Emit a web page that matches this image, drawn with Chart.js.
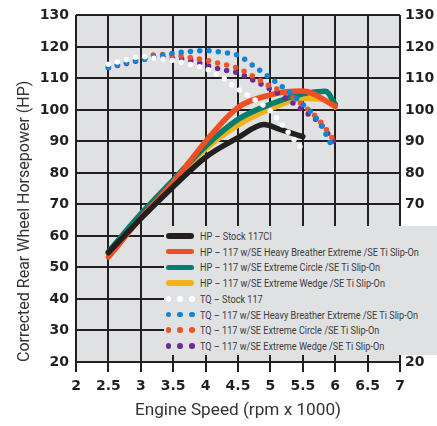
<!DOCTYPE html>
<html lang="en">
<head>
<meta charset="UTF-8" />
<title>Engine dyno chart</title>
<script src="https://cdn.jsdelivr.net/npm/chart.js@4.4.1/dist/chart.umd.min.js"></script>
<style>
  html, body { margin: 0; padding: 0; background: #fff; }
  #wrap { position: relative; width: 437px; height: 426px; }
  #under, #grid, #chart { position: absolute; left: 0; top: 0; }
  #grid { width: 437px; height: 426px; }
  .gl { position: absolute; background: #231f20; }
  #legend { position: absolute; left: 164px; top: 226px; width: 273px; height: 129px; background: #e0e1e3; }
  .row { position: absolute; left: 0; width: 273px; height: 14px; }
  .mk-line { position: absolute; left: 2px; top: 4.3px; width: 28px; height: 5.5px; border-radius: 3px; }
  .mk-dot { position: absolute; top: 4.3px; width: 5.5px; height: 5.5px; border-radius: 50%; }
  .txt { position: absolute; left: 36px; top: -1px; font: 11.5px Roboto, sans-serif; line-height: 16px; color: #3c3c3c; white-space: nowrap; transform-origin: 0 50%; }
</style>
</head>
<body>
<div id="wrap">
  <canvas id="under" width="437" height="426"></canvas>
  <div id="grid"></div>
  <canvas id="chart" width="437" height="426"></canvas>
  <div id="legend"></div>
</div>
<script>
// engine speed (krpm) and readings per curve
const hpStockRpm = [2.5, 3, 3.5, 4, 4.5, 4.9, 5.15, 5.5]
const hpStock = [54.7, 65.5, 75.6, 85.0, 91.2, 95.4, 93.8, 91.5]
const hpHeavyRpm = [2.5, 3, 3.5, 4, 4.5, 5, 5.25, 5.5, 6]
const hpHeavy = [53.3, 65.7, 77.0, 90.0, 100.8, 104.8, 105.8, 106.0, 101.2]
const hpCircleRpm = [2.5, 3, 3.5, 4, 4.5, 5, 5.5, 5.85, 6]
const hpCircle = [55.0, 67.0, 77.8, 88.5, 97.0, 101.8, 105.1, 105.9, 101.8]
const hpWedgeRpm = [2.5, 3, 3.5, 4, 4.5, 5, 5.5, 5.8, 6]
const hpWedge = [54.5, 66.3, 77.0, 87.6, 95.2, 100.3, 103.6, 103.4, 101.0]

const tqStockRpm = [2.5, 2.75, 3, 3.25, 3.5, 3.75, 4, 4.25, 4.5, 4.75, 5, 5.25, 5.49]
const tqStock = [114.5, 115.8, 116.9, 116.3, 115.7, 114.5, 113.1, 110.3, 106.6, 103.3, 99.7, 93.5, 87.5]
const tqHeavyRpm = [2.5, 2.75, 3, 3.25, 3.5, 3.75, 4, 4.25, 4.5, 4.75, 5, 5.25, 5.5, 5.75, 5.95]
const tqHeavy = [113.5, 114.8, 115.9, 117.1, 118.0, 118.5, 118.8, 118.3, 117.3, 113.8, 110.1, 106.3, 101.8, 96.2, 88.5]
const tqCircleRpm = [2.5, 2.75, 3, 3.25, 3.5, 3.75, 4, 4.25, 4.5, 4.75, 5, 5.25, 5.5, 5.75, 6]
const tqCircle = [113.6, 114.9, 116.2, 117.6, 117.4, 116.7, 115.8, 114.6, 113.2, 110.5, 107.5, 105.3, 101.5, 96.8, 89.8]
const tqWedgeRpm = [2.5, 2.75, 3, 3.25, 3.5, 3.75, 4, 4.25, 4.5, 4.75, 5, 5.25, 5.5, 5.75, 6]
const tqWedge = [113.4, 114.6, 115.8, 116.6, 116.4, 115.8, 114.2, 112.8, 111.7, 109.3, 106.6, 103.6, 99.9, 96.0, 89.3]

// axis ticks
const xTicks = [2, 2.5, 3, 3.5, 4, 4.5, 5, 5.5, 6, 6.5, 7]
const yTicks = [20, 30, 40, 50, 60, 70, 80, 90, 100, 110, 120, 130]

const series = [
  { label: 'HP \u2013 Stock 117CI', x: hpStockRpm, y: hpStock, color: '#231f20', dots: false },
  { label: 'HP \u2013 117 w/SE Heavy Breather Extreme /SE Ti Slip-On', x: hpHeavyRpm, y: hpHeavy, color: '#f04e23', dots: false },
  { label: 'HP \u2013 117 w/SE Extreme Circle /SE Ti Slip-On', x: hpCircleRpm, y: hpCircle, color: '#00806c', dots: false },
  { label: 'HP \u2013 117 w/SE Extreme Wedge /SE Ti Slip-On', x: hpWedgeRpm, y: hpWedge, color: '#f0b416', dots: false },
  { label: 'TQ \u2013 Stock 117', x: tqStockRpm, y: tqStock, color: '#ffffff', dots: true },
  { label: 'TQ \u2013 117 w/SE Heavy Breather Extreme /SE Ti Slip-On', x: tqHeavyRpm, y: tqHeavy, color: '#1384d2', dots: true },
  { label: 'TQ \u2013 117 w/SE Extreme Circle /SE Ti Slip-On', x: tqCircleRpm, y: tqCircle, color: '#f15424', dots: true },
  { label: 'TQ \u2013 117 w/SE  Extreme Wedge /SE Ti Slip-On', x: tqWedgeRpm, y: tqWedge, color: '#6b2d90', dots: true },
]

const ink = '#231f20'
const tickFont = { family: 'DejaVu Sans', weight: 'bold', size: 14 }

const chart = new Chart(document.getElementById('chart'), {
  type: 'line',
  data: {
    datasets: series.map((s) => ({
      label: s.label,
      data: s.x.map((x, i) => ({ x, y: s.y[i] })),
      borderColor: s.color,
      backgroundColor: s.color,
      borderWidth: 5.5,
      borderDash: s.dots ? [0, 9.3] : [],
      borderCapStyle: 'round',
      borderJoinStyle: 'round',
      pointRadius: 0,
      cubicInterpolationMode: 'monotone',
      order: s.dots ? 0 : 1,
    })),
  },
  options: {
    responsive: false,
    animation: false,
    layout: { padding: { top: 13, left: 0, right: 0, bottom: 0 } },
    plugins: { legend: { display: false }, tooltip: { enabled: false } },
    scales: {
      x: {
        type: 'linear', min: xTicks[0], max: xTicks[xTicks.length - 1],
        afterFit: (s) => { s.height = 64 },
        ticks: { stepSize: 0.5, font: tickFont, color: ink, padding: 6, maxRotation: 0, autoSkip: false, callback: (v) => String(v) },
        grid: { drawOnChartArea: false, drawTicks: true, color: 'rgba(0,0,0,0)', tickLength: 10 },
        border: { display: true, color: ink, width: 1.5 },
        title: { display: true, text: 'Engine Speed (rpm x 1000)', color: '#333', font: { family: 'Roboto', size: 17.2 }, padding: { top: 0, bottom: 5 } },
      },
      y: {
        position: 'left', min: yTicks[0], max: yTicks[yTicks.length - 1],
        afterFit: (s) => { s.width = 76 },
        ticks: { stepSize: 10, font: tickFont, color: ink, padding: 7 },
        grid: { drawOnChartArea: false, drawTicks: false },
        border: { display: true, color: ink, width: 1.5 },
        title: { display: true, align: 'start', text: 'Corrected Rear Wheel Horsepower (HP)', color: '#333', font: { family: 'Roboto', size: 16 }, padding: { top: 15, bottom: 0 } },
      },
      y2: {
        position: 'right', min: yTicks[0], max: yTicks[yTicks.length - 1],
        afterFit: (s) => { s.width = 37 },
        ticks: { stepSize: 10, font: tickFont, color: ink, padding: 5 },
        grid: { drawOnChartArea: false, drawTicks: false },
        border: { color: ink, width: 1.5 },
      },
    },
  },
})

// legend drawn as an overlay box, like the printed chart
const legend = document.getElementById('legend')
series.forEach((s, i) => {
  const row = document.createElement('div')
  row.className = 'row'
  row.style.top = (3 + i * 15.7) + 'px'
  if (s.dots) {
    ;[4.3, 16, 28].forEach((cx) => {
      const d = document.createElement('span')
      d.className = 'mk-dot'
      d.style.left = (cx - 2.75) + 'px'
      d.style.background = s.color
      row.appendChild(d)
    })
  } else {
    const l = document.createElement('span')
    l.className = 'mk-line'
    l.style.background = s.color
    row.appendChild(l)
  }
  const t = document.createElement('span')
  t.className = 'txt'
  t.textContent = s.label
  row.appendChild(t)
  legend.appendChild(row)
})
const texts = [...legend.querySelectorAll('.txt')]
const widest = Math.max(...texts.map((t) => t.offsetWidth))
const k = 219 / widest
texts.forEach((t) => { t.style.transform = `scaleX(${k})` })

// grey panel under the chart canvas
const a = chart.chartArea
const under = document.getElementById('under').getContext('2d')
under.fillStyle = '#e0e1e3'
under.fillRect(a.left, a.top, a.right - a.left, a.bottom - a.top)

// grid lines as thin boxes between the panel and the curves, placed from the chart's scales
const grid = document.getElementById('grid')
function gridLine(left, top, width, height) {
  const d = document.createElement('div')
  d.className = 'gl'
  d.style.left = left + 'px'
  d.style.top = top + 'px'
  d.style.width = width + 'px'
  d.style.height = height + 'px'
  grid.appendChild(d)
}
xTicks.forEach((v) => {
  const px = Math.round(chart.scales.x.getPixelForValue(v))
  gridLine(px - 0.75, a.top, 1.5, a.bottom - a.top + 10)
})
yTicks.forEach((v) => {
  const py = Math.round(chart.scales.y.getPixelForValue(v))
  gridLine(a.left, py - 0.75, a.right - a.left, 1.5)
})
</script>
</body>
</html>
